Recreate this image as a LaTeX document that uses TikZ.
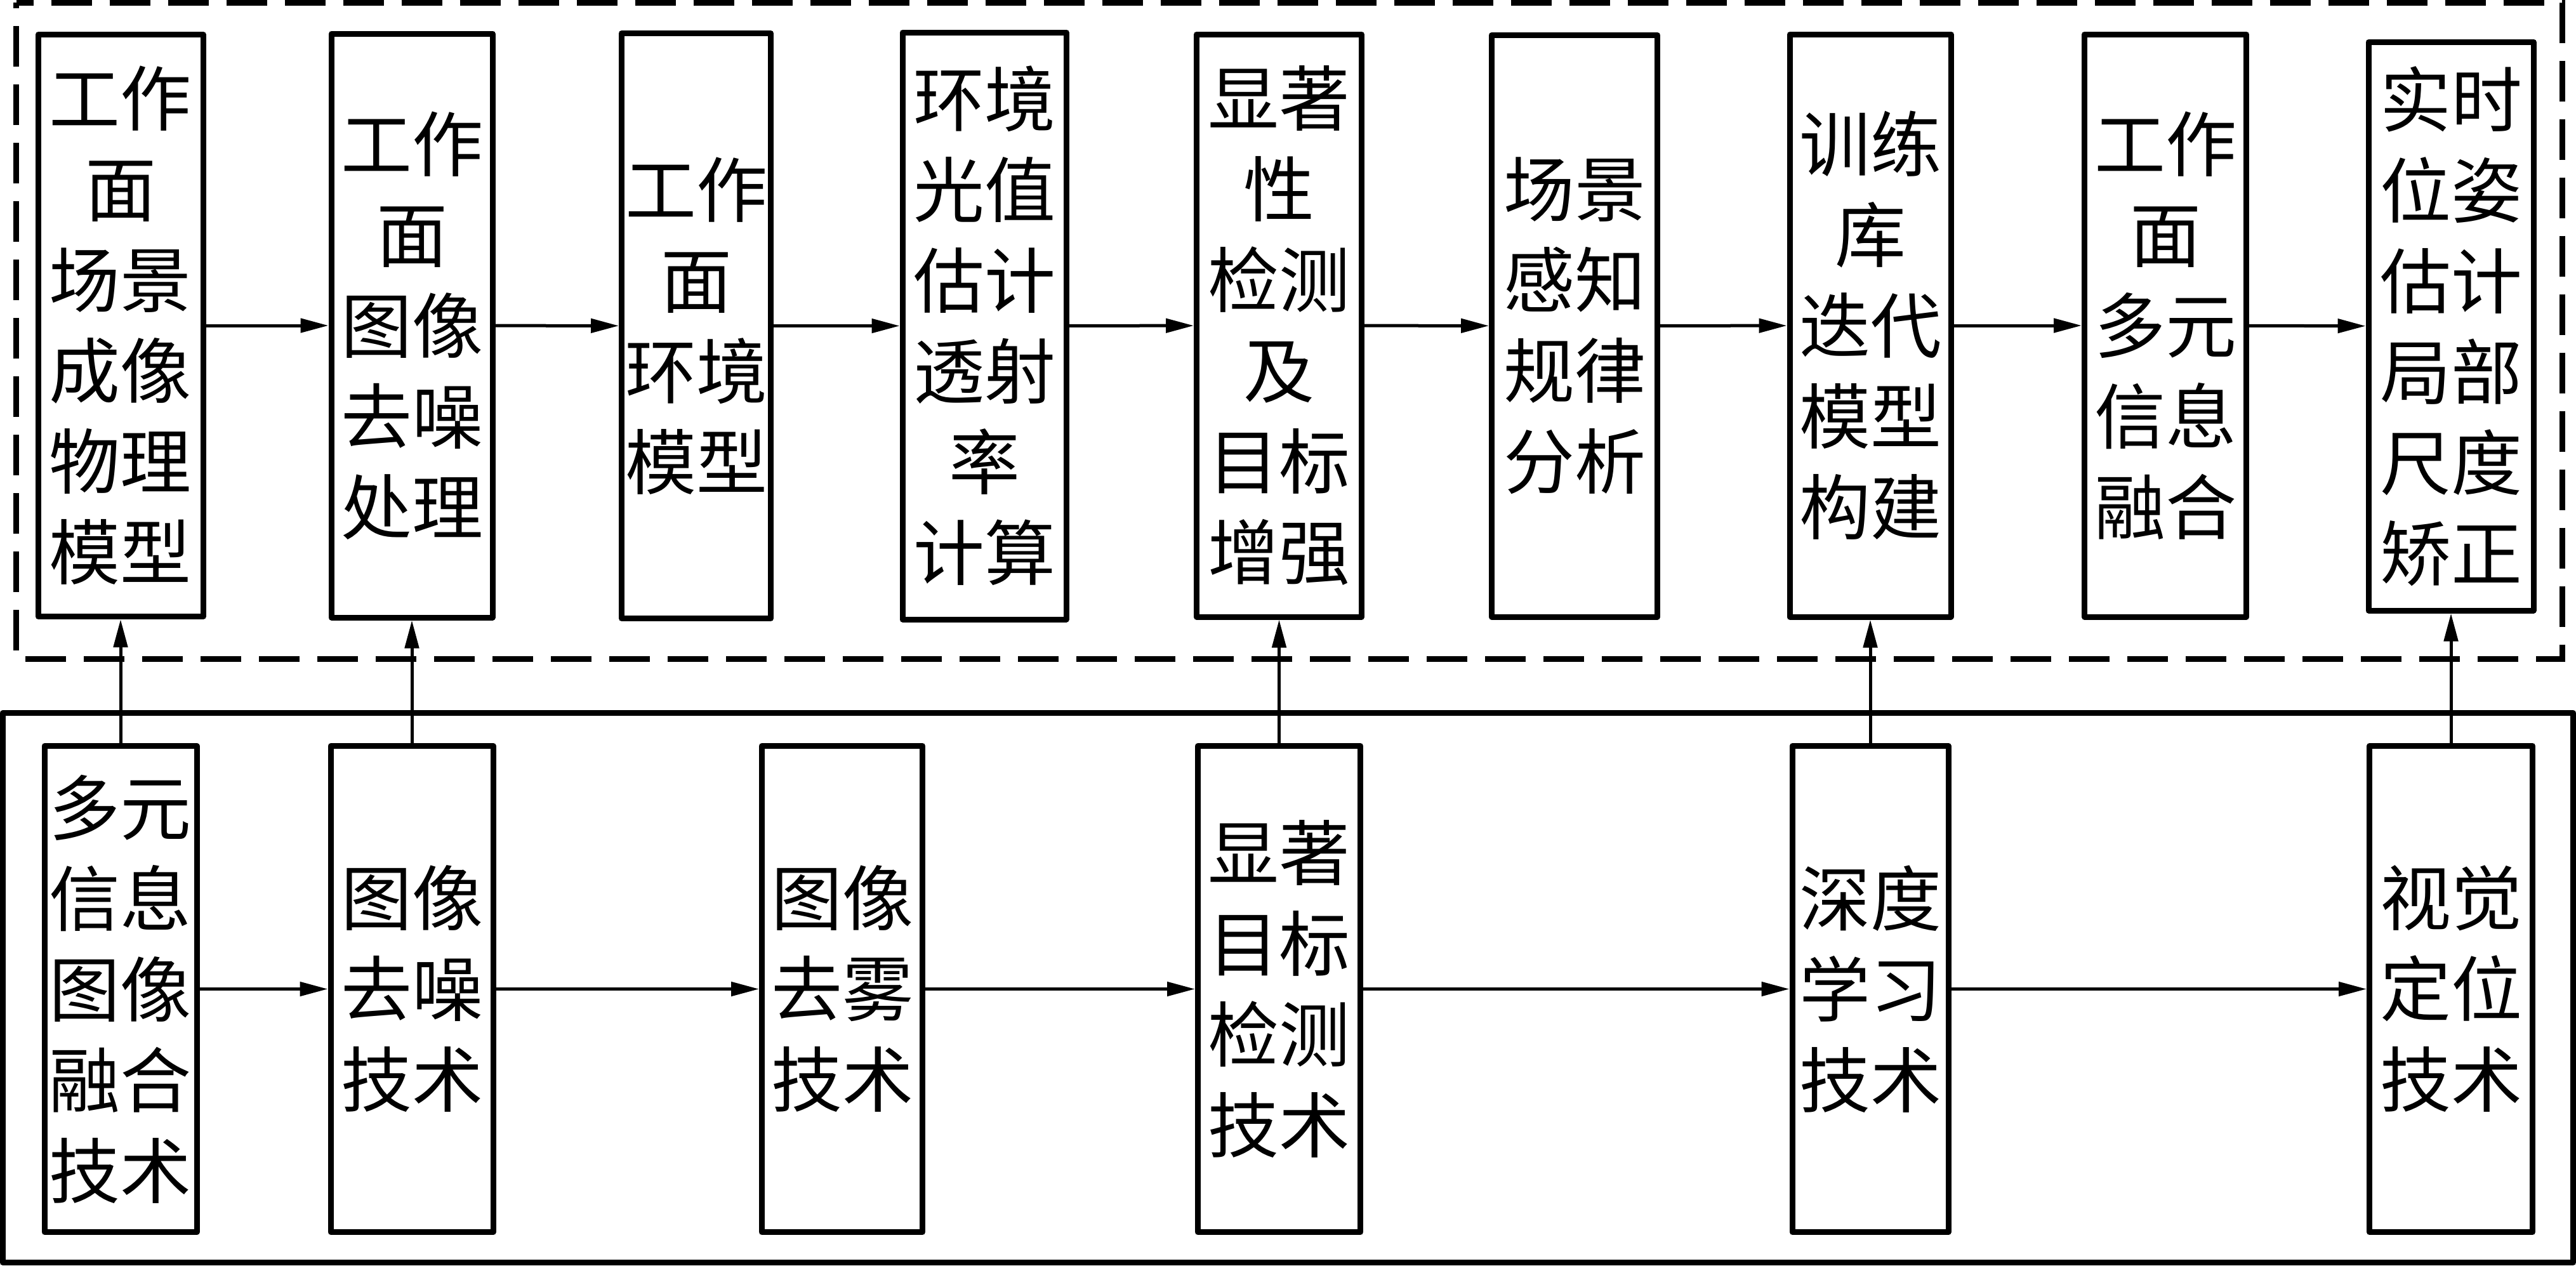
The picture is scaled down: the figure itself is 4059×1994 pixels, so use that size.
\documentclass[tikz,border=0pt]{standalone}
\usepackage{fontspec}
\newfontfamily\cjk{Noto Sans CJK SC}
\usetikzlibrary{arrows.meta}
\begin{document}
\begin{tikzpicture}[x=0.25pt,y=-0.25pt,
  box/.style={draw, line width=2.25pt, line join=round, inner sep=0pt,
    font=\cjk\fontsize{28pt}{35.75pt}\selectfont, align=center},
  sz/.style 2 args={minimum width=#1*0.25pt, minimum height=#2*0.25pt},
  arr/.style={-{Triangle[length=11pt,width=5.5pt]}, line width=1.25pt},
  framebox/.style={inner sep=0pt, outer sep=0pt},
  dashframe/.style={line width=2.25pt, dash pattern=on 16pt off 7pt, dash phase=9.25pt},
  solidframe/.style={line width=2.25pt, line join=round}
]
\useasboundingbox (0,0) rectangle (4059,1994);

% frames
\node[framebox, sz={4011.5}{1034.5}] (upper) at (2031.25,521.25) {};
\node[framebox, sz={4050.5}{866}] (lower) at (2029.25,1556.5) {};
\draw[dashframe] (upper.north west) -- (upper.north east) -- (upper.south east)
  -- (upper.south west) -- cycle;
\draw[solidframe] (lower.north west) rectangle (lower.south east);

% top row
\node[box, sz={260}{917}] (t1) at (190,513) {工作\\面\\场景\\成像\\物理\\模型};
\node[box, sz={254}{920}] (t2) at (649,513) {工作\\面\\图像\\去噪\\处理};
\node[box, sz={235}{922}] (t3) at (1097,513.5) {工作\\面\\环境\\模型};
\node[box, sz={258}{925}] (t4) at (1551,513.5) {环境\\光值\\估计\\透射\\率\\计算};
\node[box, sz={260}{918}] (t5) at (2015.5,513) {显著\\性\\检测\\及\\目标\\增强};
\node[box, sz={261}{917}] (t6) at (2481,513.5) {场景\\感知\\规律\\分析};
\node[box, sz={254}{918}] (t7) at (2947,513) {训练\\库\\迭代\\模型\\构建};
\node[box, sz={255}{918}] (t8) at (3412,513) {工作\\面\\多元\\信息\\融合};
\node[box, sz={260}{896}] (t9) at (3862,514) {实时\\位姿\\估计\\局部\\尺度\\矫正};

% bottom row
\node[box, sz={240}{766}] (b1) at (190,1558.5) {多元\\信息\\图像\\融合\\技术};
\node[box, sz={256}{766}] (b2) at (649,1558.5) {图像\\去噪\\技术};
\node[box, sz={253}{766}] (b3) at (1327,1558.5) {图像\\去雾\\技术};
\node[box, sz={256}{766}] (b4) at (2015.5,1558.5) {显著\\目标\\检测\\技术};
\node[box, sz={246}{766}] (b5) at (2947,1558.5) {深度\\学习\\技术};
\node[box, sz={257}{766}] (b6) at (3862,1558.5) {视觉\\定位\\技术};

% top row arrows
\draw[arr] (t1) -- (t2);
\draw[arr] (t2) -- (t3);
\draw[arr] (t3) -- (t4);
\draw[arr] (t4) -- (t5);
\draw[arr] (t5) -- (t6);
\draw[arr] (t6) -- (t7);
\draw[arr] (t7) -- (t8);
\draw[arr] (t8) -- (t9);

% bottom row arrows
\draw[arr] (b1) -- (b2);
\draw[arr] (b2) -- (b3);
\draw[arr] (b3) -- (b4);
\draw[arr] (b4) -- (b5);
\draw[arr] (b5) -- (b6);

% vertical arrows
\draw[arr] (b1) -- (t1);
\draw[arr] (b2) -- (t2);
\draw[arr] (b4) -- (t5);
\draw[arr] (b5) -- (t7);
\draw[arr] (b6) -- (t9);
\end{tikzpicture}
\end{document}
